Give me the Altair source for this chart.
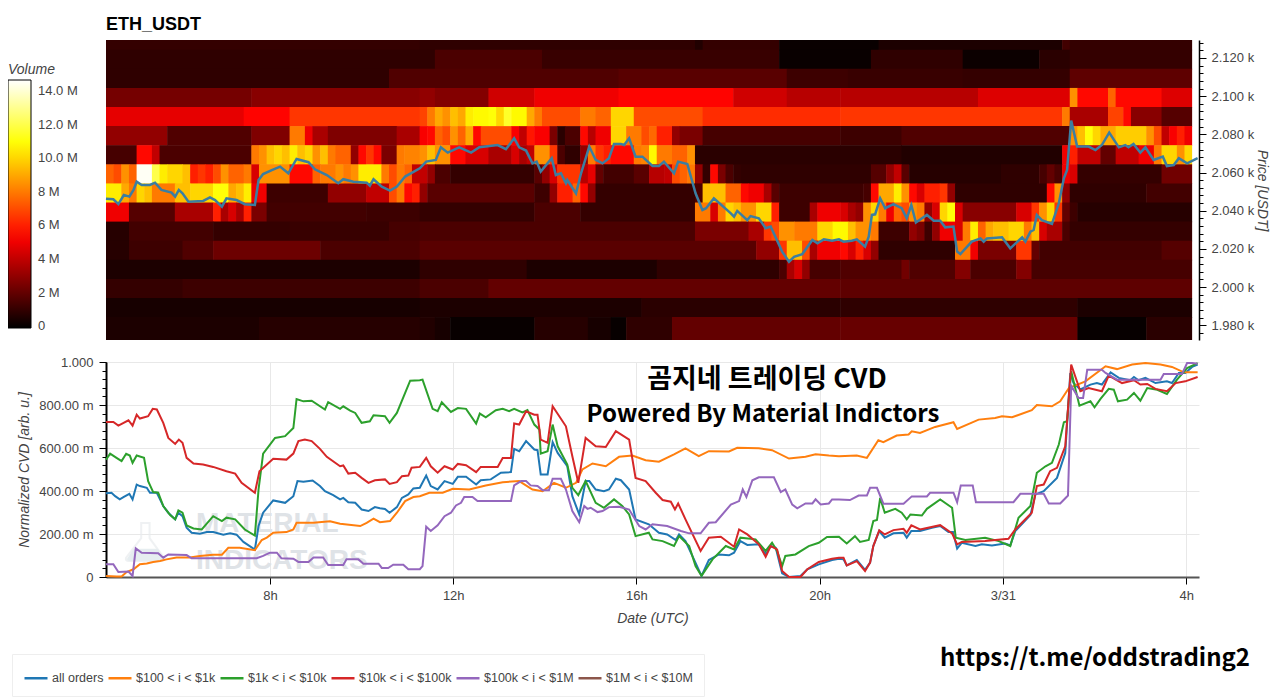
import altair as alt
import pandas as pd

# ---- heatmap: volume in millions, as (value, number of 10-minute columns) runs, one list per price band
band_edges = [2129.4, 2124.3, 2114.3, 2104.3, 2094.3, 2084.3, 2074.3, 2064.3, 2054.3, 2044.3, 2034.3,
              2024.3, 2014.3, 2004.3, 1994.3, 1984.3, 1972.3]
band_a = [(1.0,41),(0.9,36),(0.6,1),(1.0,10),(0.1,13),(0.5,24),(1.3,1),(1.0,16)]
band_b = [(0.9,43),(1.5,14),(1.1,31),(0.1,12),(0.9,12),(0.15,10),(0.8,4),(1.0,16)]
band_c = [(0.9,37),(1.6,30),(1.8,22),(1.2,8),(1.1,15),(1.0,14),(1.9,16)]
band_d = [(2.4,19),(2.8,22),(3.0,2),(2.7,7),(4.3,6),(5.0,11),(5.4,15),(4.3,7),(3.8,7),(3.8,18),(4.6,12),(8.5,1),(5.5,4),(7.5,1),(5.5,6),(4.6,4)]
band_e = [(4.8,18),(5.4,6),(6.5,17),(6.8,1),(8,1),(9,1),(8.5,1),(9.5,1),(9,1),(10.5,1),(10.8,2),(11,1),(10,1),(11.5,1),(10.8,2),(9,1),(8,1),(7,5),(8,2),(7.5,2),(10,3),(7,9),(6.3,18),(6.5,29),(8,1),(3.5,5),(6.8,2),(5.5,1),(2.8,4),(1.7,4)]
band_f = [(3.0,8),(1.6,11),(2.6,5),(8,2),(5,1),(3.5,2),(2.6,9),(3.5,3),(5.2,1),(5.5,1),(7.5,1),(7,1),(8.5,1),(7.5,1),(9,1),(5.5,1),(7,4),(5.2,1),(4,1),(5.8,1),(5.2,2),(2.5,1),(0.8,1),(1.5,2),(5.5,1),(3.8,1),(5,2),(10,2),(8,2),(7,1),(7.6,1),(6,2),(3,1),(2.5,3),(1.4,18),(1.2,8),(1.6,22),(8.5,1),(9.5,1),(11,1),(10,1),(9,2),(9.8,4),(8.5,1),(7,1),(4,1),(5.2,1),(6,1),(5,1)]
band_g = [(1.4,4),(5.5,2),(4,1),(1.5,12),(8,1),(8.5,1),(9.5,1),(10,1),(9.5,1),(10.5,1),(9.5,1),(10,1),(8.5,1),(9.5,1),(8,1),(7.5,2),(3,1),(5.5,1),(6.5,1),(5.5,1),(2.5,2),(8,1),(8.2,2),(8.5,1),(9.5,1),(8.5,2),(5.5,2),(4.5,3),(3.5,3),(4.5,1),(3.5,1),(4,1),(8.5,2),(6.5,1),(1.5,1),(0.9,2),(3,1),(8,1),(6.5,1),(6,1),(5.5,3),(8,1),(8.2,1),(10.8,1),(8,2),(7.5,2),(8.5,1),(0.8,27),(0.6,21),(5,1),(6,1),(4,3),(2,2),(4,3),(5,2),(8,1),(10,2),(8.5,1),(10,1)]
band_h = [(7.5,1),(7,1),(8.5,1),(7.5,1),(14.5,2),(12,1),(10.5,1),(10,2),(9.5,1),(6,1),(6.5,1),(6,1),(7,1),(8.5,1),(7.5,2),(8,1),(4.5,1),(8.5,4),(5.5,3),(7.5,1),(8,2),(8.5,1),(8,1),(8.5,1),(10.5,3),(8,1),(7,1),(8,1),(7.5,1),(4,2),(3,1),(1.5,2),(1,11),(1.8,1),(3,1),(4.5,1),(6.5,3),(3.8,1),(4.8,1),(2,1),(1.3,4),(1.8,2),(3.8,2),(4,1),(7,1),(7.5,1),(8,1),(3,1),(1,1),(5.5,1),(2.5,1),(1.5,1),(1,1),(0.9,17),(1.7,2),(3,1),(4,1),(1.8,1),(0.7,12),(0.9,5),(1.4,1),(2,1),(1.5,1),(5,1),(4.5,1),(1,11),(2.3,4)]
band_i = [(10.5,2),(9,1),(8,1),(10,1),(9.5,1),(8,3),(9.5,2),(10,3),(11,2),(9,1),(9.5,1),(10.5,1),(5,2),(1.2,8),(3,5),(4,3),(7,1),(8,1),(5.5,1),(6,1),(3,1),(1.8,14),(1.2,2),(3,1),(6,2),(7.5,1),(5.5,1),(3,1),(1,13),(1.5,1),(9.5,3),(7.5,2),(5.5,1),(5,2),(3.5,1),(1.8,1),(1.2,11),(1.4,1),(5.5,1),(9,2),(10.5,1),(8.5,1),(5.5,1),(4.5,1),(6,2),(6.5,1),(3,1),(0.9,12),(5.5,1),(8.5,1),(3,1),(0.9,10),(1.3,6)]
band_j = [(5,3),(1.7,6),(3.5,5),(6,1),(3.5,1),(4.5,1),(3.5,1),(6,1),(2.5,2),(1.3,13),(1.2,7),(1,15),(1.5,6),(1,15),(8,2),(4.5,1),(8,1),(10,1),(9.5,1),(8.5,2),(10,2),(6,1),(1.2,4),(3.5,1),(5,3),(4.5,1),(3.5,1),(3,1),(8.5,1),(10,1),(8,1),(5,1),(7.5,1),(7,1),(8.5,1),(8,1),(3,1),(4.5,1),(10,1),(11,1),(4.5,1),(2.8,7),(4.5,2),(6.5,1),(8.5,1),(10,1),(6.5,1),(2,1),(1.2,1),(0.7,15)]
band_k = [(0.7,3),(1.3,11),(1,10),(1.1,13),(1.4,4),(1.5,36),(2.5,7),(3.5,2),(6.5,1),(7,1),(8.5,2),(8,3),(10,2),(10.8,2),(9.5,1),(8.5,2),(8,1),(1.2,4),(3,1),(2.5,1),(1.2,1),(3,1),(5,2),(4.5,1),(8,1),(10.5,1),(7.5,1),(9,1),(9.5,2),(10,2),(8,1),(9.5,1),(4.5,1),(3.5,2),(1.5,1),(1,16)]
band_l = [(0.7,3),(1.2,7),(1.6,4),(2.2,14),(1.5,13),(1.8,44),(3,3),(6.5,1),(9.5,2),(7,1),(3.5,1),(5,3),(5.5,1),(4.5,1),(6,1),(4.5,1),(3,1),(0.9,10),(8,2),(5,1),(2.5,5),(6.5,2),(2,1),(1.3,16),(1.7,4)]
band_m = [(0.5,41),(0.9,14),(0.5,17),(0.9,16),(1.5,1),(3.5,1),(4.5,1),(3,1),(1.4,4),(1.6,8),(2.3,1),(1.6,6),(2.7,2),(1.5,6),(2.7,2),(1.4,21)]
band_n = [(1,10),(1.2,31),(1.5,9),(2,46),(1.9,46)]
band_o = [(0.4,41),(0.5,29),(0.8,26),(0.9,31),(0.5,15)]
band_p = [(0.5,20),(0.7,21),(0.6,2),(0.4,2),(0.08,11),(0.7,7),(0.4,3),(0.05,2),(0.9,6),(2,22),(2.1,31),(0.05,9),(0.8,6)]
bands = [band_a,band_b,band_c,band_d,band_e,band_f,band_g,band_h,band_i,band_j,band_k,band_l,band_m,band_n,band_o,band_p]
heat_start = 4.42
heat_col = 23.71 / 142

# ---- price line
price_t = [4.42,4.58,4.69,4.81,4.93,5.02,5.09,5.20,5.38,5.49,5.63,5.85,5.93,6.01,6.09,6.22,6.54,6.69,6.80,6.95,7.05,7.27,7.45,7.67,7.75,7.85,8.04,8.22,8.40,8.58,8.84,8.98,9.24,9.49,9.60,9.82,10.11,10.18,10.26,10.44,10.62,10.77,10.95,11.27,
           11.41,11.62,11.73,11.88,12.13,12.39,12.57,12.97,13.15,13.33,13.44,13.59,13.73,13.82,13.91,14.15,14.24,14.35,14.46,14.49,14.68,14.79,14.97,15.11,15.26,15.40,15.51,15.66,15.73,15.84,15.98,16.13,16.35,16.49,16.60,16.82,16.91,17.11,17.29,17.44,17.52,17.69,18.06,18.13,18.20,18.42,18.49,18.67,18.82,18.93,19.18,19.33,19.44,19.62,19.84,19.95,20.09,20.27,20.42,
           20.52,20.70,20.81,20.99,21.07,21.14,21.21,21.32,21.43,21.61,21.79,21.90,22.0,22.10,22.34,22.49,22.63,22.74,22.92,23.0,23.07,23.32,23.51,23.58,23.65,23.98,24.16,24.42,24.49,24.60,24.67,24.74,24.85,25.07,25.22,25.33,25.40,25.49,25.62,25.87,26.02,26.16,26.32,26.53,26.67,26.74,26.85,27.0,27.11,27.29,27.49,27.58,27.73,27.84,28.02,28.13,28.25]
price_v = [2046.3,2046.0,2043.5,2048.2,2047.4,2050.9,2055.2,2053.5,2053.5,2054.7,2050.9,2049.5,2047.4,2050.9,2049.1,2044.7,2045.1,2047.0,2045.6,2042.1,2046.5,2045.6,2043.4,2043.0,2056.1,2059.2,2061.3,2063.1,2059.6,2067.1,2065.4,2061.7,2058.7,2054.4,2056.5,2055.2,2054.7,2053.1,2056.5,2052.6,2050.5,2052.6,2057.9,2062.2,
           2065.7,2066.6,2073.2,2070.4,2073.2,2070.4,2073.2,2074.4,2072.2,2077.9,2073.2,2071.5,2064.8,2065.7,2060.5,2067.5,2058.7,2059.6,2054.4,2056.1,2049.1,2059.6,2073.6,2066.6,2064.8,2067.5,2075.0,2075.0,2074.4,2077.9,2068.3,2068.3,2063.4,2063.4,2065.7,2059.6,2065.7,2064.5,2049.1,2040.4,2041.3,2046.5,2038.6,2036.9,2039.9,2035.1,2037.2,2036.0,2030.8,2031.7,2018.6,2013.3,2015.9,2017.3,2024.7,2022.9,2025.0,2024.3,2025.0,
           2023.8,2024.3,2025.0,2021.2,2026.4,2037.8,2038.1,2046.5,2041.3,2043.5,2041.3,2036.0,2043.0,2033.8,2037.8,2034.8,2034.8,2031.3,2031.7,2018.6,2017.3,2023.8,2025.5,2023.8,2025.5,2026.1,2020.3,2026.1,2023.8,2029.0,2029.9,2037.8,2035.1,2033.1,2043.9,2057.0,2061.3,2087.2,2073.6,2073.6,2071.8,2074.4,2080.9,2073.2,2074.4,2073.2,2075.0,2070.4,2073.2,2066.6,2068.3,2063.4,2063.9,2067.5,2064.8,2066.1,2067.5]

# ---- CVD series
blue_t = [4.42,4.54,4.62,4.72,4.81,4.93,5.00,5.09,5.16,5.31,5.38,5.53,5.67,5.78,5.93,6.00,6.09,6.18,6.29,6.47,6.62,6.76,6.98,7.13,7.27,7.42,7.67,7.75,7.85,8.07,8.33,8.51,8.60,8.73,8.93,9.09,9.20,9.38,9.53,9.60,9.71,9.86,10.0,10.15,10.29,10.40,10.51,10.61,10.77,10.88,11.02,11.13,11.27,
          11.41,11.51,11.66,11.81,11.99,12.10,12.28,12.50,12.60,12.82,13.04,13.26,13.33,13.44,13.59,13.77,13.84,13.91,14.06,14.17,14.28,14.49,14.60,14.75,14.89,14.97,15.11,15.29,15.40,15.55,15.66,15.84,15.98,16.27,16.49,16.67,16.86,16.93,17.07,17.22,17.42,17.58,17.80,18.02,18.13,18.27,18.42,18.67,18.82,18.93,19.04,19.18,19.33,19.58,19.73,19.98,20.27,20.42,
          20.52,20.59,20.81,20.99,21.10,21.17,21.30,21.42,21.61,21.83,21.90,22.0,22.19,22.45,22.63,22.81,22.91,23.0,23.10,23.40,23.54,23.76,24.05,24.16,24.27,24.60,24.71,24.89,25.18,25.36,25.47,25.54,25.69,25.91,26.05,26.16,26.35,26.53,26.78,26.86,26.96,27.11,27.33,27.58,27.69,27.84,27.98,28.13,28.25]
blue_v = [.389,.392,.376,.361,.373,.387,.361,.430,.423,.415,.392,.392,.330,.299,.268,.299,.283,.229,.206,.201,.209,.209,.197,.203,.197,.163,.128,.237,.299,.356,.345,.376,.446,.443,.449,.423,.399,.381,.361,.368,.348,.345,.314,.307,.325,.320,.316,.299,.325,.368,.384,.412,.415,
          .472,.423,.407,.446,.433,.466,.466,.430,.450,.454,.485,.488,.596,.585,.632,.593,.590,.477,.477,.627,.577,.515,.376,.291,.446,.446,.407,.399,.407,.457,.450,.407,.268,.245,.206,.198,.172,.198,.167,.098,.005,.079,.105,.101,.113,.167,.149,.152,.105,.144,.136,.017,0,.005,.036,.059,.079,.085,
          .082,.054,.079,.033,.067,.144,.214,.183,.203,.206,.183,.214,.214,.229,.237,.209,.209,.132,.159,.144,.152,.147,.156,.147,.214,.288,.384,.399,.461,.577,.949,.902,.872,.895,.902,.895,.952,.926,.915,.930,.915,.926,.902,.910,.902,.949,.949,.977,.988]
orange_t = [4.42,4.65,4.76,4.87,5.02,5.16,5.31,5.45,5.60,5.74,5.96,6.25,6.47,6.76,6.95,7.09,7.34,7.67,7.82,7.93,8.07,8.36,8.51,8.58,8.95,9.31,9.53,9.97,10.11,10.26,10.40,10.62,10.77,10.95,11.13,11.27,
            11.48,11.77,11.99,12.35,12.71,13.08,13.44,13.73,13.95,14.20,14.46,14.68,14.82,15.04,15.33,15.62,15.91,16.20,16.49,16.82,17.07,17.36,17.58,18.02,18.20,18.67,18.96,19.33,19.69,19.91,20.20,20.42,
            20.81,21.03,21.28,21.39,21.68,21.94,22.01,22.19,22.52,22.92,23.0,23.47,23.83,23.98,24.20,24.63,24.74,25.07,25.25,25.44,25.80,26.24,26.49,26.82,27.11,27.44,27.69,27.95,28.25]
orange_v = [.005,.002,.002,.023,.036,.059,.063,.070,.074,.082,.091,.091,.098,.104,.104,.136,.136,.125,.172,.183,.206,.209,.221,.252,.252,.259,.248,.237,.252,.271,.255,.260,.299,.353,.372,.376,
            .392,.392,.410,.407,.426,.441,.446,.407,.399,.438,.415,.438,.500,.528,.515,.559,.565,.543,.536,.570,.598,.562,.585,.584,.601,.599,.590,.551,.559,.571,.565,.562,
            .565,.554,.636,.627,.658,.663,.678,.670,.698,.720,.689,.732,.740,.748,.743,.776,.800,.794,.817,.879,.910,.980,.967,.988,.995,.988,.977,.952,.952]
green_t = [4.42,4.51,4.65,4.76,4.86,4.94,5.00,5.09,5.25,5.34,5.45,5.56,5.67,5.82,5.93,6.00,6.09,6.18,6.33,6.51,6.76,6.95,7.05,7.24,7.45,7.67,7.75,7.85,8.11,8.33,8.51,8.58,8.73,8.91,9.20,9.27,9.53,9.60,9.75,9.86,10.0,10.18,10.26,10.51,10.61,10.77,11.06,11.27,
           11.33,11.55,11.66,11.75,11.95,12.10,12.28,12.50,12.58,12.71,12.93,13.08,13.22,13.33,13.51,13.62,13.77,13.88,13.91,14.06,14.17,14.28,14.49,14.60,14.73,14.89,15.11,15.29,15.51,15.69,15.84,15.98,16.27,16.35,16.57,16.82,16.93,17.15,17.29,17.42,17.66,17.95,18.13,18.27,18.60,18.82,18.96,19.07,19.18,19.25,19.47,19.76,19.98,20.16,20.42,
           20.59,20.77,20.88,21.07,21.17,21.25,21.32,21.42,21.65,21.79,21.90,21.98,22.23,22.34,22.63,22.89,22.97,23.18,23.61,23.91,24.16,24.34,24.60,24.74,24.93,25.07,25.22,25.33,25.40,25.49,25.67,25.91,26.0,26.13,26.31,26.42,26.51,26.71,26.86,27.0,27.15,27.37,27.58,27.80,28.02,28.25]
green_v = [.546,.574,.554,.539,.573,.565,.531,.565,.554,.446,.395,.392,.330,.288,.268,.310,.299,.240,.226,.221,.283,.260,.276,.268,.221,.193,.407,.574,.647,.655,.693,.828,.817,.820,.779,.813,.782,.794,.774,.763,.717,.724,.752,.748,.717,.763,.913,.915,
           .918,.782,.771,.813,.768,.786,.782,.714,.760,.743,.776,.782,.771,.782,.766,.776,.709,.686,.574,.585,.709,.608,.523,.415,.381,.446,.345,.322,.361,.330,.291,.190,.206,.175,.167,.144,.190,.144,.051,.005,.082,.144,.128,.183,.175,.121,.159,.121,.051,.098,.105,.144,.159,.186,.187,
           .156,.190,.163,.172,.260,.265,.368,.299,.317,.299,.268,.291,.286,.317,.361,.322,.183,.172,.183,.167,.144,.276,.330,.485,.515,.531,.616,.720,.724,.957,.797,.817,.789,.828,.875,.871,.817,.825,.856,.820,.879,.871,.851,.918,.972,.995]
red_t = [4.42,4.58,4.69,4.91,5.0,5.09,5.16,5.34,5.44,5.53,5.67,5.78,5.93,6.01,6.09,6.18,6.33,6.54,6.76,7.05,7.24,7.38,7.67,7.77,8.07,8.36,8.51,8.62,8.76,8.91,9.09,9.24,9.53,9.60,9.71,9.86,10.0,10.15,10.29,10.51,10.61,10.77,10.88,11.02,11.09,11.27,
         11.41,11.51,11.66,11.81,11.99,12.10,12.28,12.50,12.60,12.97,13.08,13.26,13.33,13.44,13.59,13.77,13.84,13.91,14.06,14.17,14.46,14.60,14.73,14.89,15.11,15.33,15.55,15.84,15.98,16.20,16.42,16.57,16.75,16.84,16.91,17.07,17.40,17.58,17.84,18.13,18.24,18.42,18.67,18.82,18.93,19.07,19.18,19.33,19.58,19.73,19.98,20.27,20.42,
         20.52,20.59,20.81,20.99,21.10,21.17,21.30,21.42,21.61,21.83,21.90,22.0,22.19,22.63,22.89,23.0,23.10,23.61,24.12,24.27,24.63,24.74,24.89,25.03,25.18,25.36,25.49,25.69,25.87,26.16,26.31,26.60,26.86,27.0,27.15,27.33,27.58,27.77,27.98,28.25]
red_v = [.721,.721,.704,.729,.704,.755,.737,.748,.782,.779,.717,.647,.619,.639,.624,.554,.528,.523,.512,.492,.481,.438,.392,.492,.550,.546,.574,.632,.639,.632,.596,.559,.515,.519,.481,.485,.461,.438,.450,.454,.433,.441,.469,.472,.508,.512,
         .554,.515,.485,.515,.500,.526,.520,.488,.512,.512,.554,.554,.714,.709,.771,.755,.755,.639,.624,.794,.701,.562,.438,.647,.608,.605,.678,.639,.461,.446,.392,.358,.350,.314,.342,.268,.121,.183,.187,.141,.221,.198,.152,.094,.144,.128,.028,0,0,.036,.070,.085,.090,
         .090,.054,.074,.028,.067,.144,.217,.198,.218,.224,.206,.240,.221,.241,.203,.152,.163,.167,.178,.221,.299,.423,.430,.492,.508,.608,.988,.864,.879,.864,.937,.902,.915,.895,.898,.875,.864,.902,.910,.930]
purple_t = [4.42,4.58,4.69,4.91,5.0,5.07,5.20,5.56,5.67,5.78,6.18,6.29,7.71,7.85,8.0,8.15,8.25,8.51,8.62,8.84,8.95,9.16,9.27,9.60,9.67,9.93,10.04,10.37,10.44,10.58,10.69,10.91,11.02,11.27,
            11.33,11.41,11.51,11.66,11.81,11.95,12.06,12.17,12.24,12.42,12.53,13.26,13.33,13.48,13.59,13.69,13.84,13.95,14.09,14.17,14.35,14.46,14.60,14.75,14.86,14.93,15.0,15.15,15.26,15.40,15.62,15.84,16.06,16.20,16.35,16.67,16.97,17.15,17.40,17.58,17.73,18.06,18.24,18.32,18.40,18.53,18.67,19.0,19.15,19.25,19.40,19.51,19.69,19.84,19.91,20.02,20.20,20.27,20.42,
            20.66,20.85,21.03,21.10,21.25,21.39,21.83,22.01,22.34,22.41,22.92,23.0,23.08,23.34,23.41,24.23,24.38,24.89,25.0,25.25,25.42,25.49,25.65,25.75,25.84,26.16,26.24,26.49,27.44,27.51,27.91,28.02,28.13,28.25]
purple_v = [.059,.059,.023,.025,.005,.133,.113,.110,.090,.105,.102,.087,.087,.098,.113,.113,.087,.085,.070,.070,.091,.091,.056,.056,.082,.082,.062,.062,.042,.042,.057,.057,.036,.036,
            .051,.234,.214,.240,.283,.299,.333,.345,.372,.372,.353,.353,.426,.446,.446,.426,.423,.404,.404,.457,.457,.407,.307,.255,.330,.317,.322,.302,.307,.325,.327,.314,.237,.221,.245,.237,.214,.203,.203,.252,.255,.337,.353,.407,.372,.450,.464,.464,.395,.407,.337,.319,.342,.342,.361,.337,.342,.361,.361,
            .358,.379,.379,.415,.415,.341,.341,.375,.375,.392,.392,.348,.426,.426,.348,.348,.387,.387,.342,.342,.379,.890,.833,.833,.964,.964,.949,.918,.918,.944,.944,.995,.995,.992]

series_names = ["all orders", "$100 < i < $1k", "$1k < i < $10k", "$10k < i < $100k", "$100k < i < $1M", "$1M < i < $10M"]
series_colors = ["#1f77b4", "#ff7f0e", "#2ca02c", "#d62728", "#9467bd", "#8c564b"]
hour_ticks = [8, 12, 16, 20, 24, 28]
price_ticks = [1980, 2000, 2020, 2040, 2060, 2080, 2100, 2120]
price_minor = list(range(1976, 2129, 4))
volume_ticks = [0, 2, 4, 6, 8, 10, 12, 14]
cvd_ticks = [0, 0.2, 0.4, 0.6, 0.8, 1.0]
cvd_minor = [i / 25 for i in range(26)]

FONT = "Liberation Sans"
TXT = "#444444"
X_DOMAIN = [4.42, 28.28]
Y_DOMAIN = [1972.3, 2129.4]

rows = []
for b, runs in enumerate(bands):
    c = 0
    for v, n in runs:
        rows.append({"t0": heat_start + c * heat_col,
                     "t1": heat_start + (c + n) * heat_col + (0.012 if c + n < 142 else 0),
                     "p0": band_edges[b + 1] - (0.3 if b < len(bands) - 1 else 0), "p1": band_edges[b], "vol": v})
        c += n
heat_df = pd.DataFrame(rows)
price_df = pd.DataFrame({"t": price_t, "p": price_v})
cvd_df = pd.concat([
    pd.DataFrame({"t": t, "v": v, "s": n})
    for t, v, n in zip([blue_t, orange_t, green_t, red_t, purple_t],
                       [blue_v, orange_v, green_v, red_v, purple_v], series_names)
])

x_top = alt.X("t0:Q", scale=alt.Scale(domain=X_DOMAIN, nice=False, zero=False), axis=None)
hot = alt.Scale(domain=[-0.1, 5.33, 10.9, 14.65], range=["#000000", "#ff0000", "#ffff00", "#ffffff"], interpolate="rgb", clamp=True)
yscale = alt.Scale(domain=Y_DOMAIN, nice=False, zero=False)

heat = alt.Chart(heat_df).mark_rect(clip=True).encode(
    x=x_top, x2="t1:Q",
    y=alt.Y("p0:Q", scale=yscale, axis=alt.Axis(
        orient="right", values=price_ticks, grid=False, title="Price [USDT]",
        labelExpr="format(datum.value/1000,'.3f')+' k'", labelFont=FONT, labelFontSize=13, labelColor=TXT,
        titleFont=FONT, titleFontSize=14, titleFontStyle="italic", titleFontWeight="normal", titleColor=TXT,
        titlePadding=1, tickSize=7, tickColor="#000", domainColor="#000", domainWidth=1.5, labelPadding=5)),
    y2="p1:Q",
    color=alt.Color("vol:Q", scale=hot, legend=alt.Legend(
        type="gradient", orient="none", legendX=-98, legendY=23, title="Volume", titleFont=FONT, titleFontSize=14,
        titleFontStyle="italic", titleFontWeight="normal", titleColor=TXT, gradientLength=248, gradientThickness=23,
        gradientStrokeColor="#000", gradientStrokeWidth=1, values=volume_ticks,
        labelExpr="datum.value==0?'\u00a0\u00a00':(datum.value<10?'\u00a0\u00a0'+datum.value+' M':format(datum.value,'.1f')+' M')",
        labelFont=FONT, labelFontSize=13, labelColor=TXT, labelOffset=7, titlePadding=3)),
)
price_line = alt.Chart(price_df).mark_line(color="#3b7ea1", strokeWidth=2.5, clip=False).encode(
    x=alt.X("t:Q", scale=alt.Scale(domain=X_DOMAIN, nice=False, zero=False), axis=None),
    y=alt.Y("p:Q", scale=yscale, axis=None),
)
price_minor_ticks = alt.Chart(pd.DataFrame({"p": price_minor})).mark_point(opacity=0).encode(
    y=alt.Y("p:Q", scale=yscale, axis=alt.Axis(
        orient="right", values=price_minor, labels=False, grid=False, title=None, domain=False,
        tickSize=4, tickColor="#000")),
)
top = alt.layer(heat, price_line, price_minor_ticks).resolve_axis(y="independent").properties(
    width=1093, height=300,
    title=alt.TitleParams("ETH_USDT", anchor="start", frame="group", font=FONT, fontSize=18, fontWeight="bold", color="#000", offset=6),
)

x_bot = alt.Scale(domain=X_DOMAIN, nice=False, zero=False)
y_bot = alt.Scale(domain=[0, 1], nice=False, zero=False)

lines = alt.Chart(cvd_df).mark_line(strokeWidth=2, clip=False).encode(
    x=alt.X("t:Q", scale=x_bot, axis=alt.Axis(
        values=hour_ticks, title="Date (UTC)", grid=True, gridColor="#e8e8e8",
        labelExpr="datum.value==24?'3/31':(datum.value%24)+'h'", labelFont=FONT, labelFontSize=13, labelColor=TXT,
        titleFont=FONT, titleFontSize=14, titleFontStyle="italic", titleFontWeight="normal", titleColor=TXT,
        tickSize=7, tickColor="#000", domainColor="#555", domainWidth=2, labelPadding=5, titlePadding=9)),
    y=alt.Y("v:Q", scale=y_bot, axis=alt.Axis(
        values=cvd_ticks, title="Normalized CVD [arb. u.]", grid=True, gridColor="#e8e8e8",
        labelExpr="datum.value==0?'0':(datum.value>=1?'1.000':format(datum.value*1000,'.2f')+' m')",
        labelFont=FONT, labelFontSize=13, labelColor=TXT,
        titleFont=FONT, titleFontSize=14, titleFontStyle="italic", titleFontWeight="normal", titleColor=TXT,
        tickSize=7, tickColor="#000", domainColor="#000", domainWidth=2, labelPadding=6, titlePadding=7)),
    color=alt.Color("s:N", scale=alt.Scale(domain=series_names, range=series_colors), legend=alt.Legend(
        orient="none", legendX=-94, legendY=292, title=None, direction="horizontal", symbolType="stroke",
        symbolSize=529, symbolStrokeWidth=2.5, labelFont=FONT, labelFontSize=12.5, labelColor=TXT, labelOffset=3,
        columnPadding=-1, strokeColor="#eeeeee", fillColor="#ffffff", padding=11, labelLimit=200)),
    detail="s:N",
)
minor_ticks = alt.Chart(pd.DataFrame({"v": cvd_minor})).mark_point(opacity=0).encode(
    y=alt.Y("v:Q", scale=y_bot, axis=alt.Axis(
        orient="left", values=cvd_minor, labels=False, grid=False, title=None, domain=False,
        tickSize=4, tickColor="#000")),
)

def note(text, px, py, size, font=FONT, color="#000000", weight="bold", align="center"):
    return alt.Chart(pd.DataFrame({"label": [text]})).mark_text(
        font=font, fontSize=size, fontWeight=weight, color=color, align=align, baseline="middle"
    ).encode(x=alt.value(px), y=alt.value(py), text="label:N")

CJK = "Noto Sans CJK KR"
flask_outline = "M -0.1 -0.5 L 0.12 -0.5 L 0.12 -0.1 L 0.5 0.42 Q 0.52 0.5 0.42 0.5 L -0.42 0.5 Q -0.52 0.5 -0.5 0.42 L -0.1 -0.1 Z"
flask_liquid = "M -0.3 0.18 L 0.34 0.18 L 0.48 0.45 L 0.42 0.5 L -0.42 0.5 L -0.48 0.45 Z"
flask1 = alt.Chart(pd.DataFrame({"k": [1]})).mark_point(shape=flask_outline, filled=False, stroke="#e9ecee", strokeWidth=2, size=5800).encode(x=alt.value(39), y=alt.value(180))
flask2 = alt.Chart(pd.DataFrame({"k": [1]})).mark_point(shape=flask_liquid, filled=True, fill="#e6edf0", opacity=1, size=5800).encode(x=alt.value(39), y=alt.value(180))

bottom = alt.layer(
    flask1, flask2,
    note("MATERIAL", 90, 162, 28, color="#dfe3e7", align="left"),
    note("INDICATORS", 90, 199, 28, color="#dfe3e7", align="left"),
    lines, minor_ticks,
    note("곰지네 트레이딩 CVD", 661, 18, 27, font=CJK),
    note("Powered By Material Indictors", 657, 53, 24, font=CJK),
    note("https://t.me/oddstrading2", 989, 297, 24, font=CJK),
).resolve_axis(y="independent").properties(width=1093, height=215)

chart = alt.vconcat(top, bottom, spacing=22, bounds="flush").resolve_scale(color="independent").configure_view(stroke=None).properties(
    padding={"left": 0, "top": 7, "right": 3, "bottom": 0}
)
chart.save("out.html", embed_options={"renderer": "svg", "actions": False})
